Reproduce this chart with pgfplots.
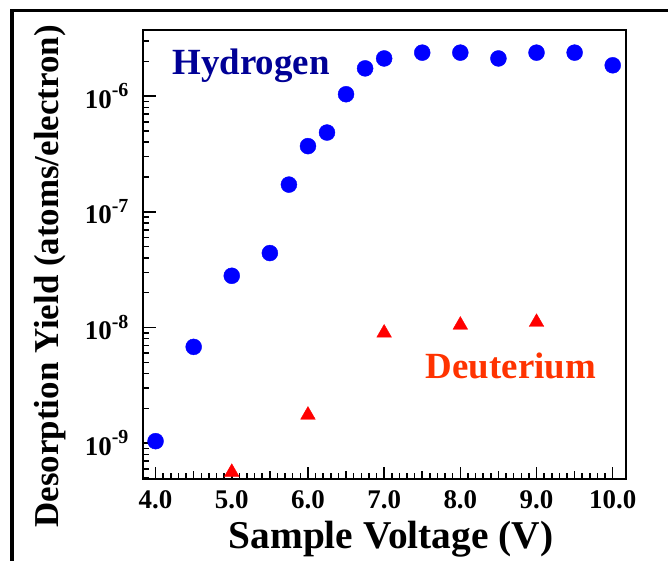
\documentclass[border=0pt]{standalone}
\usepackage{fontspec}
\setmainfont{Liberation Serif}
\usepackage{pgfplots}
\pgfplotsset{compat=1.18}
\definecolor{hblue}{RGB}{0,0,255}
\definecolor{hnavy}{RGB}{0,0,150}
\definecolor{dred}{RGB}{255,0,0}
\definecolor{dorange}{RGB}{255,51,0}
\newcommand{\sexp}[1]{10\raisebox{11.5pt}{\fontsize{20}{20}\selectfont #1}}
\begin{document}
\begin{tikzpicture}
\path (0pt,0pt) rectangle (670pt,562pt);
\draw[line width=3.5pt] (12pt,0pt) -- (12pt,551.3pt) -- (670pt,551.3pt);
\begin{axis}[
 at={(143.3pt,81.3pt)}, anchor=south west,
 width=484pt, height=450.7pt, scale only axis,
 xmin=3.834, xmax=10.17,
 ymode=log, ymin=4.853e-10, ymax=3.741e-6,
 axis x line*=bottom, axis y line*=left, axis line style={draw=none},
 tick align=inside,
 xtick={4,5,6,7,8,9,10}, xticklabels={},
 minor x tick num=9,
 ytick={1e-9,1e-8,1e-7,1e-6}, yticklabels={},
 tick style={black, line width=1.5pt},
]
\end{axis}
\begin{axis}[
 at={(143.3pt,81.3pt)}, anchor=south west,
 width=484pt, height=450.7pt, scale only axis,
 xmin=3.834, xmax=10.17,
 ymode=log, ymin=4.853e-10, ymax=3.741e-6,
 axis x line*=bottom, axis y line*=left, axis line style={draw=none},
 tick align=inside,
 xtick={4,5,6,7,8,9,10}, xticklabels={},
 minor x tick num=9,
 ytick={1e-9,1e-8,1e-7,1e-6}, yticklabels={},
 minor ytick={5e-10,6e-10,7e-10,8e-10,9e-10,
   2e-9,3e-9,4e-9,5e-9,6e-9,7e-9,8e-9,9e-9,
   2e-8,3e-8,4e-8,5e-8,6e-8,7e-8,8e-8,9e-8,
   2e-7,3e-7,4e-7,5e-7,6e-7,7e-7,8e-7,9e-7,
   2e-6,3e-6},
 major tick length=13pt, minor tick length=6.5pt,
 tick style={black, line width=1.5pt},
]
\end{axis}
\begin{axis}[
 at={(143.3pt,81.3pt)}, anchor=south west,
 width=484pt, height=450.7pt, scale only axis,
 xmin=3.834, xmax=10.17,
 ymode=log, ymin=4.853e-10, ymax=3.741e-6,
 axis x line*=bottom, axis y line*=left, axis line style={draw=none},
 tick align=inside,
 xtick={4.5,5.5,6.5,7.5,8.5,9.5}, xticklabels={},
 ytick={1e-9,1e-8,1e-7,1e-6}, yticklabels={},
 major tick length=9pt,
 tick style={black, line width=1.5pt},
]
\end{axis}
\begin{axis}[
 at={(143.3pt,81.3pt)}, anchor=south west,
 width=484pt, height=450.7pt, scale only axis,
 xmin=3.834, xmax=10.17,
 ymode=log, ymin=4.853e-10, ymax=3.741e-6,
 axis line style={line width=2pt},
 xtick={4,5,6,7,8,9,10},
 xticklabels={4.0,5.0,6.0,7.0,8.0,9.0,10.0},
 ytick={1e-9,1e-8,1e-7,1e-6},
 yticklabels={\sexp{-9},\sexp{-8},\sexp{-7},\sexp{-6}},
 tick style={draw=none},
 ticklabel style={font=\fontsize{27}{27}\selectfont\bfseries},
 xticklabel style={yshift=-8pt},
 yticklabel style={xshift=-11pt},
]
\addplot[only marks, mark=*, mark size=8pt, color=hblue, mark options={draw=hblue, fill=hblue}] coordinates {
 (4.0,1.04e-9) (4.5,6.8e-9) (5.0,2.8e-8) (5.5,4.4e-8) (5.75,1.72e-7)
 (6.0,3.7e-7) (6.25,4.85e-7) (6.5,1.04e-6) (6.75,1.74e-6) (7.0,2.12e-6)
 (7.5,2.38e-6) (8.0,2.38e-6) (8.5,2.12e-6) (9.0,2.38e-6) (9.5,2.38e-6)
 (10.0,1.85e-6)
};
\addplot[only marks, mark=triangle*, mark size=8.5pt, color=dred, mark options={draw=dred, fill=dred}] coordinates {
 (5.0,5.6e-10) (6.0,1.75e-9) (7.0,8.97e-9) (8.0,1.05e-8) (9.0,1.11e-8)
};
\end{axis}
\node[anchor=base west, font=\fontsize{37}{37}\selectfont\bfseries, text=hnavy, inner sep=0pt] at (172.7pt,487pt) {Hydrogen};
\node[anchor=base west, font=\fontsize{37}{37}\selectfont\bfseries, text=dorange, inner sep=0pt] at (426.8pt,182.8pt) {Deuterium};
\node[anchor=base, font=\fontsize{39.5}{39.5}\selectfont\bfseries, inner sep=0pt] at (392pt,12pt) {Sample Voltage (V)};
\node[anchor=base, rotate=90, font=\fontsize{35}{35}\selectfont\bfseries, inner sep=0pt] at (58.3pt,285pt) {Desorption Yield (atoms/electron)};
\end{tikzpicture}
\end{document}
